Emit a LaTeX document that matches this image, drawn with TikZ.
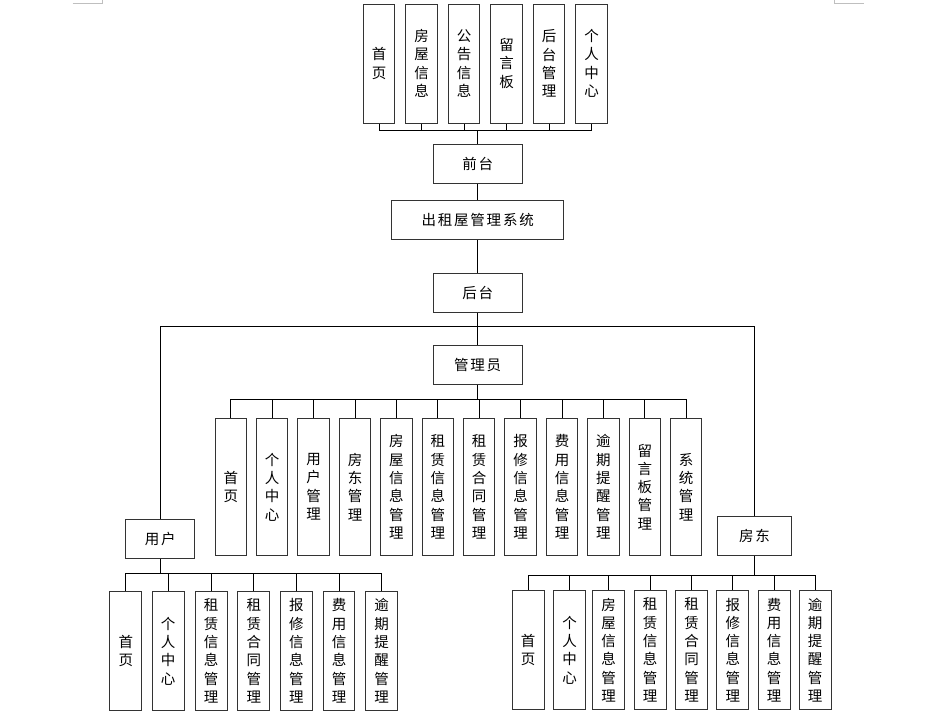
\documentclass[tikz,border=0pt]{standalone}
\usepackage{fontspec}
\newfontfamily\cjk{Noto Sans CJK SC}
\newcommand\hk{\kern1.8pt}
\begin{document}
\begin{tikzpicture}[x=1pt,y=-1pt,
  box/.style={draw=black!80,line width=1pt,inner sep=0pt,
    font=\cjk\fontsize{14.5pt}{18.3pt}\selectfont,align=center},
  hbox/.style={box,minimum width=89pt,minimum height=39pt},
  tallbox/.style={box,minimum width=31.5pt,minimum height=119pt},
  adminbox/.style={box,minimum width=31.5pt,minimum height=137.7pt},
  leafbox/.style={box,minimum width=31.7pt,minimum height=118.5pt},
  conn/.style={draw=black,line width=0.9pt},
  cornermark/.style={draw=black!25,line width=0.8pt}]
\useasboundingbox (0,0) rectangle (930,715);
\fill[white] (0,0) rectangle (930,715);
% page corner marks
\draw[cornermark] (72.7,3.3) -- (102.3,3.3) -- (102.3,0);
\draw[cornermark] (834.3,0) -- (834.3,3.3) -- (864,3.3);

% top group
\foreach \x/\t [count=\i] in {379/{首\\页},421.5/{房\\屋\\信\\息},464/{公\\告\\信\\息},506.5/{留\\言\\板},549/{后\\台\\管\\理},591.5/{个\\人\\中\\心}}
  {\node[tallbox] (t\i) at (\x,63.5) {\t};}
\node[hbox] (qt) at (477.7,163.5) {前\hk 台};
\node[box,minimum width=172.5pt,minimum height=39.3pt] (sys) at (477.7,220.3) {出\hk 租\hk 屋\hk 管\hk 理\hk 系\hk 统};
\node[hbox] (ht) at (477.7,292.5) {后\hk 台};
\node[hbox] (gly) at (477.7,364.5) {管\hk 理\hk 员};
\node[box,minimum width=69.3pt,minimum height=39pt] (yh) at (160.3,538.5) {用\hk 户};
\node[box,minimum width=74.4pt,minimum height=39pt] (fd) at (754.5,535.5) {房\hk 东};

% admin children
\foreach \x/\t [count=\i] in {230.8/{首\\页},272.2/{个\\人\\中\\心},313.6/{用\\户\\管\\理},355.0/{房\\东\\管\\理},396.4/{房\\屋\\信\\息\\管\\理},437.8/{租\\赁\\信\\息\\管\\理},479.2/{租\\赁\\合\\同\\管\\理},520.6/{报\\修\\信\\息\\管\\理},562.0/{费\\用\\信\\息\\管\\理},603.4/{逾\\期\\提\\醒\\管\\理},644.8/{留\\言\\板\\管\\理},686.2/{系\\统\\管\\理}}
  {\node[adminbox] (a\i) at (\x,486.9) {\t};}

% user children
\foreach \x/\t [count=\i] in {125.8/{首\\页},168.2/{个\\人\\中\\心},211.2/{租\\赁\\信\\息\\管\\理},253.8/{租\\赁\\合\\同\\管\\理},296.3/{报\\修\\信\\息\\管\\理},339.0/{费\\用\\信\\息\\管\\理},381.7/{逾\\期\\提\\醒\\管\\理}}
  {\node[leafbox] (u\i) at (\x,650.9) {\t};}

% landlord children
\foreach \x/\t [count=\i] in {528.2/{首\\页},569.5/{个\\人\\中\\心},608.7/{房\\屋\\信\\息\\管\\理},650.2/{租\\赁\\信\\息\\管\\理},691.5/{租\\赁\\合\\同\\管\\理},732.8/{报\\修\\信\\息\\管\\理},774.2/{费\\用\\信\\息\\管\\理},815.2/{逾\\期\\提\\醒\\管\\理}}
  {\node[leafbox] (f\i) at (\x,650.0) {\t};}

% connectors
\coordinate (tbus) at (477.7,130);
\draw[conn] (qt.north) -- (tbus);
\foreach \i in {1,...,6} {\draw[conn] (tbus) -| (t\i.south);}
\draw[conn] (qt.south) -- (sys.north);
\draw[conn] (sys.south) -- (ht.north);
\draw[conn] (ht.south) -- (gly.north);
\coordinate (hub) at (477.7,326.7);
\draw[conn] (yh.north) |- (hub) -| (fd.north);

\coordinate (abus) at (477.7,399.3);
\draw[conn] (gly.south) -- (abus);
\foreach \i in {1,...,12} {\draw[conn] (abus) -| (a\i.north);}

\coordinate (ubus) at (160.3,573);
\draw[conn] (yh.south) -- (ubus);
\foreach \i in {1,...,7} {\draw[conn] (ubus) -| (u\i.north);}

\coordinate (fbus) at (754.5,575.7);
\draw[conn] (fd.south) -- (fbus);
\foreach \i in {1,...,8} {\draw[conn] (fbus) -| (f\i.north);}
\end{tikzpicture}
\end{document}
